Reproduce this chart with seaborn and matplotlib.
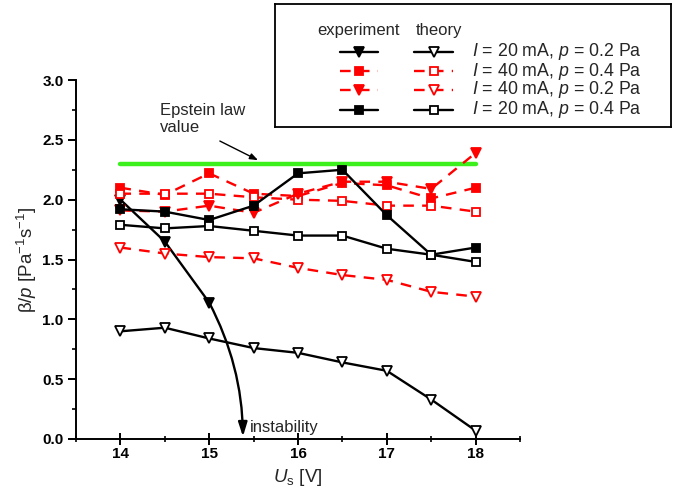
import matplotlib
matplotlib.use("Agg")
import matplotlib.pyplot as plt
import numpy as np
import pandas as pd
import seaborn as sns
from matplotlib.lines import Line2D
from matplotlib.ticker import MultipleLocator

# Accelerating voltage U_s [V]
U_s = [14, 14.5, 15, 15.5, 16, 16.5, 17, 17.5, 18]
U_s_unstable = [14, 14.5, 15]

# beta/p [Pa^-1 s^-1]
exp_20mA_02Pa = [2.00, 1.65, 1.14]
theo_20mA_02Pa = [0.90, 0.93, 0.84, 0.76, 0.72, 0.64, 0.57, 0.33, 0.07]
exp_40mA_04Pa = [2.10, 2.04, 2.22, 2.05, 2.03, 2.14, 2.12, 2.01, 2.10]
theo_40mA_04Pa = [2.05, 2.05, 2.05, 2.02, 2.00, 1.99, 1.95, 1.95, 1.90]
exp_40mA_02Pa = [1.91, 1.90, 1.95, 1.89, 2.05, 2.15, 2.15, 2.09, 2.39]
theo_40mA_02Pa = [1.60, 1.55, 1.52, 1.51, 1.43, 1.37, 1.33, 1.23, 1.19]
exp_20mA_04Pa = [1.92, 1.90, 1.83, 1.95, 2.22, 2.25, 1.87, 1.54, 1.60]
theo_20mA_04Pa = [1.79, 1.76, 1.78, 1.74, 1.70, 1.70, 1.59, 1.54, 1.48]

epstein_U = [14, 18]
epstein_value = [2.3, 2.3]

legend_labels = [
    r"$\mathit{I}$ = 20 mA, $\mathit{p}$ = 0.2 Pa",
    r"$\mathit{I}$ = 40 mA, $\mathit{p}$ = 0.4 Pa",
    r"$\mathit{I}$ = 40 mA, $\mathit{p}$ = 0.2 Pa",
    r"$\mathit{I}$ = 20 mA, $\mathit{p}$ = 0.4 Pa",
]

sns.set_theme(style="ticks")
plt.rcParams["font.family"] = ["Liberation Sans", "DejaVu Sans"]
plt.rcParams["mathtext.fontset"] = "custom"
plt.rcParams["mathtext.rm"] = "Liberation Sans"
plt.rcParams["mathtext.it"] = "Liberation Sans:italic"
plt.rcParams["mathtext.bf"] = "Liberation Sans:bold"

RED = "#ff0000"
BLACK = "#000000"
GREEN = "#3cf01e"
DASH = (0, (4.5, 3.5))

fig = plt.figure(figsize=(6.81, 5.01), dpi=100)
ax = fig.add_axes([76 / 681, 62 / 501, 444 / 681, 359 / 501])

# (x, y, colour, marker, filled, linestyle)
series = [
    (U_s_unstable, exp_20mA_02Pa, BLACK, "v", True, "-"),
    (U_s, theo_20mA_02Pa, BLACK, "v", False, "-"),
    (U_s, exp_40mA_04Pa, RED, "s", True, DASH),
    (U_s, theo_40mA_04Pa, RED, "s", False, DASH),
    (U_s, exp_40mA_02Pa, RED, "v", True, DASH),
    (U_s, theo_40mA_02Pa, RED, "v", False, DASH),
    (U_s, exp_20mA_04Pa, BLACK, "s", True, "-"),
    (U_s, theo_20mA_04Pa, BLACK, "s", False, "-"),
]

for x, y, col, mk, filled, ls in series:
    df = pd.DataFrame({"U": x, "beta": y})
    sns.lineplot(
        data=df, x="U", y="beta", ax=ax, color=col, linestyle=ls, lw=1.7,
        marker=mk, markersize=7 if mk == "v" else 6,
        markerfacecolor=col if filled else "white",
        markeredgecolor=col, markeredgewidth=1.3,
        estimator=None, sort=False, legend=False,
    )

# Epstein law reference level
sns.lineplot(x=epstein_U, y=epstein_value, ax=ax, color=GREEN, lw=3.2,
             legend=False, zorder=1)

# Instability continuation of the 20 mA / 0.2 Pa measurement
ax.annotate(
    "", xy=(15.38, 0.02), xytext=(U_s_unstable[-1], exp_20mA_02Pa[-1]),
    arrowprops=dict(arrowstyle="-|>,head_length=0.7,head_width=0.22",
                    connectionstyle="arc3,rad=-0.12", lw=1.7, color=BLACK,
                    shrinkA=0, shrinkB=0),
)
ax.text(15.46, 0.06, "instability", fontsize=12, ha="left", va="baseline")

ax.text(14.45, 2.81, "Epstein law\nvalue", fontsize=12, ha="left", va="top",
        linespacing=1.15)
ax.annotate(
    "", xy=(15.55, 2.33), xytext=(15.12, 2.49),
    arrowprops=dict(arrowstyle="-|>,head_length=0.4,head_width=0.15",
                    lw=1.0, color=BLACK, shrinkA=0, shrinkB=0),
)

ax.set_xlim(13.5, 18.5)
ax.set_ylim(0, 3.0)
ax.xaxis.set_major_locator(MultipleLocator(1))
ax.xaxis.set_minor_locator(MultipleLocator(0.5))
ax.yaxis.set_major_locator(MultipleLocator(0.5))
ax.yaxis.set_minor_locator(MultipleLocator(0.25))
ax.yaxis.set_major_formatter(matplotlib.ticker.FormatStrFormatter("%.1f"))
ax.tick_params(axis="x", which="major", direction="inout", length=8, width=1.4,
               labelsize=11, pad=2, colors=BLACK)
ax.tick_params(axis="x", which="minor", direction="inout", length=5, width=1.4)
ax.tick_params(axis="y", which="major", direction="out", length=6, width=1.4,
               labelsize=11, pad=3, colors=BLACK)
ax.tick_params(axis="y", which="minor", direction="out", length=3, width=1.4)
for lbl in ax.get_xticklabels() + ax.get_yticklabels():
    lbl.set_fontweight("bold")
for side in ("top", "right"):
    ax.spines[side].set_visible(False)
for side in ("left", "bottom"):
    ax.spines[side].set_linewidth(1.4)
    ax.spines[side].set_color(BLACK)

ax.set_xlabel(r"$\mathit{U}_\mathrm{s}$ [V]", fontsize=13.5, labelpad=4)
ax.set_ylabel(r"β/$\mathit{p}$ [Pa$^{-1}$s$^{-1}$]", fontsize=13.5, labelpad=2)

# Legend box: experiment / theory columns with shared condition labels
lax = fig.add_axes([275 / 681, 1 - 127 / 501, 396 / 681, 123 / 501])
lax.set_xlim(0, 396)
lax.set_ylim(123, 0)
lax.set_xticks([])
lax.set_yticks([])
for s in lax.spines.values():
    s.set_linewidth(1.3)
    s.set_color(BLACK)
lax.set_facecolor("white")

lax.text(83, 26, "experiment", fontsize=12, ha="center", va="center")
lax.text(164, 26, "theory", fontsize=12, ha="center", va="center")
rows = [48, 67, 86, 106]
legend_styles = [
    (BLACK, "v", "-"),
    (RED, "s", DASH),
    (RED, "v", DASH),
    (BLACK, "s", "-"),
]
for yrow, (col, mk, ls), lab in zip(rows, legend_styles, legend_labels):
    for (x0, x1), filled in (((65, 103), True), ((139, 178), False)):
        lax.add_line(Line2D([x0, x1], [yrow, yrow], color=col, lw=1.7,
                            linestyle=ls))
        lax.add_line(Line2D([(x0 + x1) / 2], [yrow], color=col,
                            marker=mk, markersize=7 if mk == "v" else 6,
                            markerfacecolor=col if filled else "white",
                            markeredgecolor=col, markeredgewidth=1.3))
    lax.text(197, yrow, lab, fontsize=12.8, ha="left", va="center")

fig.savefig("out.png", dpi=100)
